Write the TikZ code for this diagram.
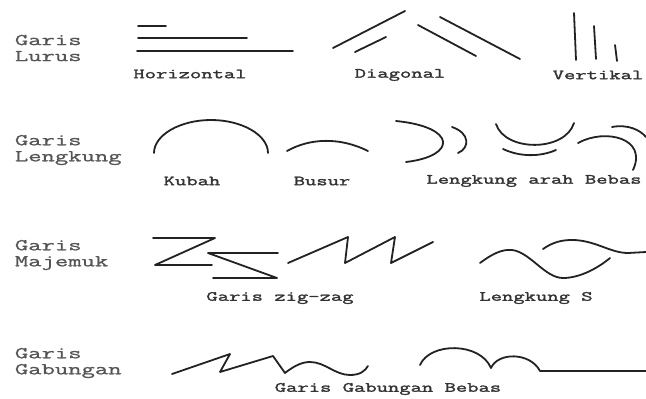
\documentclass[tikz,border=0pt]{standalone}
\usepackage{fontspec}
\setmonofont[FakeStretch=1.57,BoldFont={Latin Modern Mono},BoldFeatures={FakeBold=2}]{Latin Modern Mono}
\newfontfamily\grpfont[FakeStretch=1.57,FakeBold=1]{Latin Modern Mono}
\usetikzlibrary{positioning}
\definecolor{ink}{HTML}{222222}
\definecolor{lblgray}{HTML}{333333}
\definecolor{grpgray}{HTML}{555555}
\begin{document}
\begin{tikzpicture}[x=1pt,y=-1pt,line width=1.8pt,line cap=round,line join=round]
\tikzstyle{grp}=[anchor=west,align=left,inner sep=0pt,text=grpgray,font=\fontsize{16.5}{16}\selectfont\grpfont]
\tikzstyle{lbl}=[inner sep=0pt,text=lblgray,font=\fontsize{14}{14}\selectfont\ttfamily\bfseries]
\tikzstyle{ln}=[draw=ink]
\useasboundingbox (0,0) rectangle (646,399);
% group names
\node[grp] (lurus) at (14,48) {Garis\\Lurus};
\node[grp] (lengkung) at (14,150) {Garis\\Lengkung};
\node[grp] (majemuk) at (14,255) {Garis\\Majemuk};
\node[grp] (gabungan) at (14,363) {Garis\\Gabungan};
% row 1: straight lines
\draw[ln] (138,26) -- (166,26);
\draw[ln] (138,38) -- (247,38);
\draw[ln] (137,51) -- (293,51);
\node[lbl] (horiz) at (190,74) {Horizontal};
\draw[ln] (333,48) -- (405,11);
\draw[ln] (355,52) -- (386,37);
\draw[ln] (418,25) -- (476,56);
\draw[ln] (440,17) -- (520,59);
\node[lbl] (diag) at (400,75) {Diagonal};
\foreach \x/\t/\b in {575/13/60,595/26/59,616/45/61}
  \draw[ln] (\x-1,\t) -- (\x+1,\b);
\node[lbl] (vert) at (598,75) {Vertikal};
% row 2: curves
\draw[ln] (154,153) .. controls (154,135) and (180,120) .. (211,120)
  .. controls (242,120) and (268,135) .. (268,153);
\node[lbl] (kubah) at (192,181) {Kubah};
\draw[ln] (287,151) .. controls (310,138) and (340,137) .. (368,151);
\node[lbl] (busur) at (322,181) {Busur};
\draw[ln] (396,121) .. controls (457,127) and (457,156) .. (406,162);
\draw[ln] (452,127) .. controls (470,133) and (470,148) .. (458,153);
\draw[ln] (496,124) .. controls (505,152) and (565,152) .. (574,123);
\draw[ln] (503,149) .. controls (520,157) and (540,157) .. (556,150);
\draw[ln] (578,143) .. controls (605,128) and (648,138) .. (633,170);
\draw[ln] (612,127) .. controls (628,124) and (640,130) .. (646,137);
\node[lbl] (bebas) at (534,181) {Lengkung arah Bebas};
% row 3: compound lines
\draw[ln] (153,238) -- (215,238) -- (155,265) -- (212,265);
\draw[ln] (278,253) -- (208,253) -- (277,278) -- (213,278);
\draw[ln] (288,263) -- (348,237) -- (345,263) -- (395,237) -- (391,263) -- (433,242);
\node[lbl] (zigzag) at (280,298) {Garis zig-zag};
\draw[ln] (480,263) .. controls (492,254) and (502,249) .. (512,250)
  .. controls (530,252) and (545,278) .. (563,278)
  .. controls (580,278) and (598,268) .. (610,258);
\draw[ln] (543,249) .. controls (553,242) and (562,240) .. (572,240)
  .. controls (595,240) and (610,253) .. (628,253) -- (646,252);
\node[lbl] (lengs) at (536,298) {Lengkung S};
% row 4: mixed line
\draw[ln] (172,374) -- (230,354) -- (220,372) -- (273,356) -- (285,373)
  .. controls (295,365) and (303,362) .. (310,362)
  .. controls (325,362) and (335,375) .. (350,375)
  .. controls (360,375) and (365,371) .. (368,366);
\draw[ln] (420,365) .. controls (430,342) and (480,342) .. (491,368)
  .. controls (498,352) and (530,352) .. (540,371) -- (646,371);
\node[lbl] (gabbebas) at (388,389) {Garis Gabungan Bebas};
\end{tikzpicture}
\end{document}
